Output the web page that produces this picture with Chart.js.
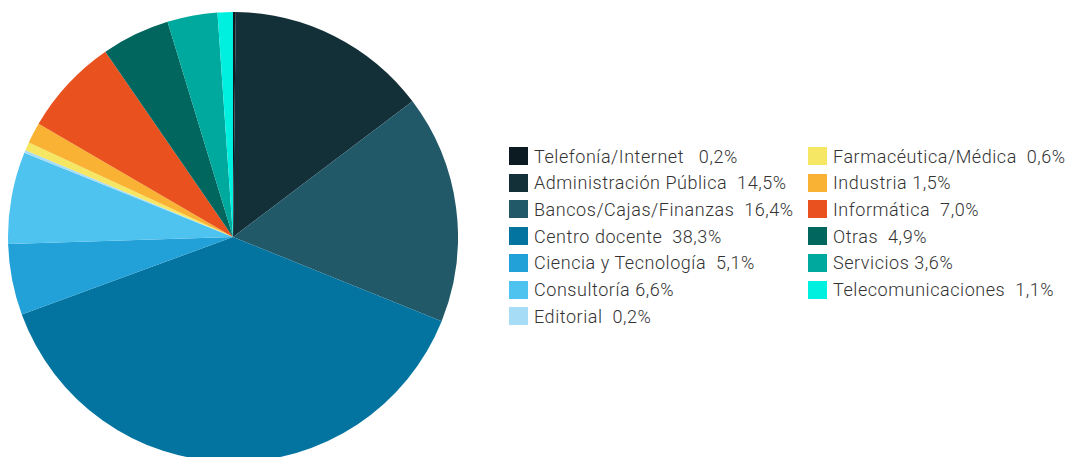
<!DOCTYPE html>
<html lang="es">
<head>
<meta charset="utf-8">
<script src="https://cdn.jsdelivr.net/npm/chart.js@4"></script>
<style>
    html, body { margin: 0; padding: 0; background: #fff; overflow: hidden; }
    body { width: 1067px; height: 457px; position: relative; }
    #pieBox { position: absolute; left: 8px; top: 12px; width: 450px; height: 450px; }
    .legend { position: absolute; top: 143px; margin: 0; padding: 0;
              font-family: Roboto, sans-serif; font-weight: 300; font-size: 18px; letter-spacing: 0.55px; color: #333; }
    .legend div { position: absolute; left: 0; height: 26px; display: flex; align-items: center; white-space: pre; }
    .legend .sw { width: 19px; height: 18px; margin-right: 6px; flex: none; }
</style>
</head>
<body>
<div id="pieBox"><canvas id="sectorChart"></canvas></div>
<div class="legend" id="legendA" style="left:509px"></div>
<div class="legend" id="legendB" style="left:808px"></div>

<script>
// Sectores y porcentajes
const sectores = ['Telefonía/Internet', 'Administración Pública', 'Bancos/Cajas/Finanzas', 'Centro docente',
    'Ciencia y Tecnología', 'Consultoría', 'Editorial', 'Farmacéutica/Médica', 'Industria',
    'Informática', 'Otras', 'Servicios', 'Telecomunicaciones'];
const porcentajes = [0.2, 14.5, 16.4, 38.3, 5.1, 6.6, 0.2, 0.6, 1.5, 7.0, 4.9, 3.6, 1.1];
const colores = ['#0b1b21', '#132f38', '#225968', '#0374a0', '#22a0d8', '#4fc3ef', '#a6dcf5',
    '#f5e663', '#f9b233', '#e9511f', '#01665e', '#00a99d', '#00f0e0'];
// espacios entre nombre y valor en la leyenda
const espacios = [3, 2, 2, 2, 2, 1, 2, 2, 1, 2, 2, 1, 2];

function formatPct(v) {
    return v.toFixed(1).replace('.', ',') + '%';
}

function buildLegend() {
    const colA = document.getElementById('legendA');
    const colB = document.getElementById('legendB');
    sectores.forEach((nombre, i) => {
        const row = document.createElement('div');
        const fila = i < 7 ? i : i - 7;
        row.style.top = (fila * 26.7) + 'px';
        const sw = document.createElement('span');
        sw.className = 'sw';
        sw.style.background = colores[i];
        row.appendChild(sw);
        row.appendChild(document.createTextNode(nombre + ' '.repeat(espacios[i]) + formatPct(porcentajes[i])));
        (i < 7 ? colA : colB).appendChild(row);
    });
}

function createPieChart() {
    const ctx = document.getElementById('sectorChart').getContext('2d');
    new Chart(ctx, {
        type: 'pie',
        data: {
            labels: sectores,
            datasets: [{
                data: porcentajes,
                backgroundColor: colores,
                borderWidth: 0
            }]
        },
        options: {
            responsive: true,
            maintainAspectRatio: false,
            animation: false,
            layout: { padding: 0 },
            plugins: {
                legend: { display: false },
                tooltip: { enabled: false }
            }
        }
    });
}

document.addEventListener('DOMContentLoaded', () => {
    buildLegend();
    createPieChart();
});
</script>
</body>
</html>
